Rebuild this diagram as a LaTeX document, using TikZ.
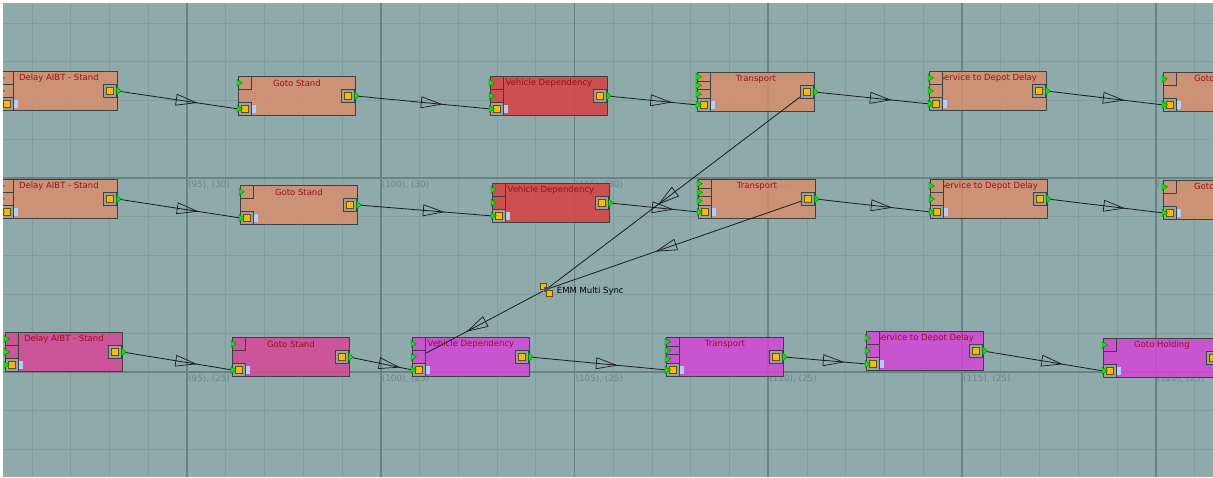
\documentclass[tikz,border=0pt]{standalone}
\usepackage{fontspec}
\newfontfamily\uifont{DejaVu Sans}
\usetikzlibrary{positioning,decorations.markings}
\definecolor{gridbg}{RGB}{143,170,170}
\definecolor{gridminor}{RGB}{129,157,157}
\definecolor{gridmajor}{RGB}{103,131,131}
\definecolor{gridlabel}{RGB}{108,135,135}
\definecolor{salmon}{RGB}{214,142,108}
\definecolor{depred}{RGB}{217,64,64}
\definecolor{rowpink}{RGB}{215,69,149}
\definecolor{rowviolet}{RGB}{210,69,215}
\definecolor{edge}{RGB}{60,66,66}
\definecolor{titlered}{RGB}{150,18,28}
\definecolor{portgrey}{RGB}{150,163,163}
\definecolor{portorange}{RGB}{255,186,0}
\definecolor{portbrown}{RGB}{105,75,10}
\definecolor{tipgreen}{RGB}{0,235,0}
\definecolor{tipdark}{RGB}{0,120,0}
\definecolor{tabblue}{RGB}{178,206,255}
\definecolor{syncblue}{RGB}{55,85,140}
\definecolor{wire}{RGB}{22,28,28}
\pgfdeclarelayer{bg}
\pgfdeclarelayer{wires}
\pgfsetlayers{bg,wires,main}

% one model step: name, left, top, colour, title, empty input slots (offset/height)
\newcommand{\mkstep}[6]{%
  \begin{pgfonlayer}{bg}
    \node[stepbody,fill=#4,anchor=north west] (#1) at (#2,#3) {};
    \node[steptitle] (#1-title) at ([yshift=-7pt]#1.north) {#5};
  \end{pgfonlayer}
  \foreach \off/\hh [count=\k] in {#6}{
    \node[slotbox,fill=#4!85!gridbg,minimum height=\hh,anchor=north west] (#1-s\k) at ([yshift=-\off pt]#1.north west) {};
    \path[greentip] (#1-s\k.west) ++(-1,-3.5) -- ++(5.5,3.5) -- ++(-5.5,3.5) -- cycle;
  }
  \node[portbox,anchor=south west] (#1-in) at (#1.south west) {};
  \node[portdot] (#1-indot) at (#1-in) {};
  \path[greentip] (#1-in.west) ++(-1,-3.5) -- ++(5.5,3.5) -- ++(-5.5,3.5) -- cycle;
  \fill[tabblue] (#1-in.east) ++(0,-4) rectangle ++(4,8);
  \node[portbox] (#1-out) at ([xshift=-8pt]#1.east) {};
  \node[portdot] (#1-outdot) at (#1-out) {};
  \path[greentip] (#1-out.east) ++(0,-4) -- ++(4.5,4) -- ++(-4.5,4) -- cycle;
}

\begin{document}
\begin{tikzpicture}[x=1pt,y=-1pt,
 stepbody/.style={draw=edge,line width=0.8pt,fill opacity=0.85,minimum width=117,minimum height=39,inner sep=0},
 steptitle/.style={font=\uifont\fontsize{8.5}{10}\selectfont,text=titlered,inner sep=0},
 slotbox/.style={draw=edge,line width=0.8pt,minimum width=13,inner sep=0},
 portbox/.style={draw=edge,line width=0.8pt,fill=portgrey,minimum size=13,inner sep=0},
 portdot/.style={draw=portbrown,line width=0.5pt,fill=portorange,minimum size=7,inner sep=0},
 greentip/.style={fill=tipgreen,draw=tipdark,line width=0.3pt},
 link/.style={draw=wire,line width=0.8pt,postaction={decorate},
   decoration={markings,mark=at position 0.5 with {\draw[wire,line width=0.7pt] (-1,-5.5) -- (19,0) -- (-1,5.5) -- cycle;}}},
 minor/.style={draw=gridminor,line width=0.8pt},
 major/.style={draw=gridmajor,line width=1.6pt},
 gridtext/.style={font=\uifont\fontsize{8.8}{10}\selectfont,text=gridlabel,inner sep=0,anchor=north west},
 syncsq/.style={draw=portbrown,fill=portorange,minimum size=6,inner sep=0,line width=0.6pt},
 syncmid/.style={fill=syncblue,minimum size=5,inner sep=0},
 synctext/.style={font=\uifont\fontsize{8.5}{10}\selectfont,inner sep=0}
]
\useasboundingbox (0,0) rectangle (1213,477);
\begin{pgfonlayer}{bg}
\fill[gridbg] (3,3) rectangle (1213,477);
\foreach \i in {1,...,31} \draw[minor] ({-6.75+38.75*\i},3) -- ({-6.75+38.75*\i},477);
\foreach \k in {1,...,12} \draw[minor] (3,{-15.75+38.75*\k}) -- (1213,{-15.75+38.75*\k});
\foreach \i in {1,...,6} \draw[major] ({-6.75+193.75*\i},3) -- ({-6.75+193.75*\i},477);
\foreach \k in {1,2} \draw[major] (3,{-15.75+193.75*\k}) -- (1213,{-15.75+193.75*\k});
\foreach \i/\v in {1/95,2/100,3/105,4/110,5/115,6/120}{
  \node[gridtext] (lab\v-30) at ({-5.75+193.75*\i},181) {(\v), (30)};
  \node[gridtext] (lab\v-25) at ({-5.75+193.75*\i},375) {(\v), (25)};
}
\end{pgfonlayer}
% row 1
\mkstep{d1}{0}{71}{salmon}{Delay AIBT - Stand}{0/13,13/13}
\mkstep{g1}{238}{76}{salmon}{Goto Stand}{0/13}
\mkstep{v1}{490}{76}{depred}{Vehicle Dependency}{0/13,13/13}
\mkstep{t1}{697}{72}{salmon}{Transport}{0/8.67,8.67/8.67,17.33/8.67}
\mkstep{s1}{929}{71}{salmon}{Service to Depot Delay}{0/13,13/13}
\mkstep{h1}{1163}{72}{salmon}{Goto Holding}{0/13}
% row 2
\mkstep{d2}{0}{179}{salmon}{Delay AIBT - Stand}{0/13,13/13}
\mkstep{g2}{240}{185}{salmon}{Goto Stand}{0/13}
\mkstep{v2}{492}{183}{depred}{Vehicle Dependency}{0/13,13/13}
\mkstep{t2}{698}{179}{salmon}{Transport}{0/8.67,8.67/8.67,17.33/8.67}
\mkstep{s2}{930}{179}{salmon}{Service to Depot Delay}{0/13,13/13}
\mkstep{h2}{1163}{180}{salmon}{Goto Holding}{0/13}
% row 3
\mkstep{d3}{5}{332}{rowpink}{Delay AIBT - Stand}{0/13,13/13}
\mkstep{g3}{232}{337}{rowpink}{Goto Stand}{0/13}
\mkstep{v3}{412}{337}{rowviolet}{Vehicle Dependency}{0/13,13/13}
\mkstep{t3}{666}{337}{rowviolet}{Transport}{0/8.67,8.67/8.67,17.33/8.67}
\mkstep{s3}{866}{331}{rowviolet}{Service to Depot Delay}{0/13,13/13}
\mkstep{h3}{1103}{338}{rowviolet}{Goto Holding}{0/13}
% multi sync
\node[syncsq] (sync-a) at (543,286) {};
\node[syncmid] (sync) at (546,289.5) {};
\node[syncsq] (sync-b) at (549,293.5) {};
\node[synctext,right=8pt of sync,yshift=-2pt] (sync-label) {EMM Multi Sync};
\begin{pgfonlayer}{wires}
\foreach \r in {1,2,3}
  \foreach \a/\b in {d/g,g/v,v/t,t/s,s/h}
    \draw[link] (\a\r-out.east) -- (\b\r-in.west);
\draw[link] (t1-out) -- (sync);
\draw[link] (t2-out) -- (sync);
\draw[link] (sync) -- (v3-s2);
\end{pgfonlayer}
\fill[white] (0,0) rectangle (3,477);
\fill[white] (0,0) rectangle (1213,3);
\end{tikzpicture}
\end{document}
